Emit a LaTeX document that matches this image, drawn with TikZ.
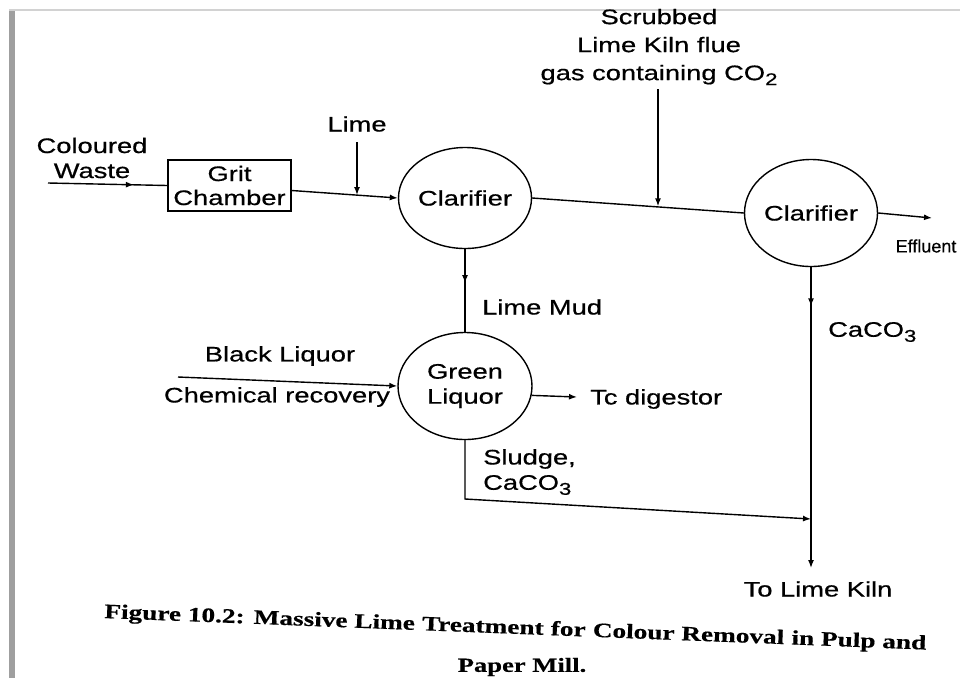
\documentclass[tikz,border=0pt]{standalone}
\usepackage{fontspec}
\setmainfont[FakeStretch=1.3,FakeBold=0.6]{Liberation Sans}
\newfontfamily\efffont[FakeBold=0.5]{Liberation Sans}
\newfontfamily\capfont[FakeStretch=1.33,FakeBold=0.5]{Liberation Serif}
\usetikzlibrary{arrows.meta,shapes.geometric,decorations.markings,calc}
\newcommand\sbs[1]{\raisebox{-0.45ex}{\fontsize{17}{17}\selectfont #1}}
\begin{document}
\begin{tikzpicture}[x=1pt,y=-1pt,
  every node/.style={font=\fontsize{21}{25}\selectfont, inner sep=0pt},
  ln/.style={line width=1.4pt, black},
  tipped/.style={ln, -{Latex[length=8pt,width=6pt]}},
  midarr/.style={ln, postaction={decorate}, decoration={markings, mark=at position #1 with {\arrow{Latex[length=8pt,width=6pt]}}}},
  unit/.style={draw, line width=1.4pt, ellipse, inner sep=0pt, align=center},
  lbl/.style={align=center},
  capstyle/.style={font=\capfont\bfseries\fontsize{20.5}{24}\selectfont, rotate=-2.2}]
\useasboundingbox (0,0) rectangle (960,678);
\fill[white] (0,0) rectangle (960,678);
\fill[gray!75] (9,10) rectangle (15,678);
\draw[gray!35, line width=1.5pt] (9,10) -- (960,10);

% units
\node[draw, line width=1.4pt, minimum width=123pt, minimum height=51pt, align=center,
      font=\fontsize{21}{24}\selectfont] (grit) at (229.5,185.5) {Grit\\Chamber};
\node[unit, minimum width=128pt, minimum height=101pt] (c1) at (465,198) {Clarifier};
\node[unit, minimum width=133pt, minimum height=107pt] (c2) at (811,213) {Clarifier};
\node[unit, minimum width=134pt, minimum height=107pt] (gl) at (465,386) {Green\\Liquor};

% labels
\node[lbl] (waste) at (92,158) {Coloured\\Waste};
\node (lime) at (357,124) {Lime};
\node[lbl, font=\fontsize{21}{28}\selectfont] (scrub) at (659,47) {Scrubbed\\Lime Kiln flue\\gas containing CO\sbs{2}};
\node[anchor=west] (mud) at (482,307) {Lime Mud};
\node (black) at (280,356) {Black Liquor};
\node (chem) at (277,397) {Chemical recovery};
\node[anchor=west] (digl) at (590,399) {Tc digestor};
\node[anchor=west] (sludge) at (483,459) {Sludge,};
\node[anchor=west] (sludgec) at (483,485) {CaCO\sbs{3}};
\node[anchor=west] (caco) at (828,332) {CaCO\sbs{3}};
\node[font=\efffont\fontsize{18}{18}\selectfont] (eff) at (926,246) {Effluent};
\node (kilnl) at (818,589) {To Lime Kiln};

% caption
\node[capstyle, anchor=base west] (cap1a) at (104,618) {Figure 10.2: Massive Lime};
\node[capstyle, anchor=base west] (cap1b) at (cap1a.base east) {\ Treatment};
\node[capstyle, anchor=base west] (cap1e) at (cap1b.base east) {\ for};
\node[capstyle, anchor=base west] (cap1c) at (cap1e.base east) {\ Colour Removal};
\node[capstyle, anchor=base west] (cap1d) at (cap1c.base east) {\ in Pulp and};
\node[font=\capfont\bfseries\fontsize{20}{24}\selectfont] (cap2) at (522,667) {Paper Mill.};

% coordinates
\coordinate (win) at (48,183);
\coordinate (limetop) at (357,142);
\coordinate (limejoin) at ($([yshift=-5pt]grit.east)!0.6!(c1.west)$);
\coordinate (co2top) at (658,89);
\coordinate (co2join) at ($(c1.east)!(co2top)!(c2.west)$);
\coordinate (effend) at (932,218);
\coordinate (kiln) at (c2.south |- 0,568);
\coordinate (blstart) at (178,377);
\coordinate (dig) at (577,397);
\coordinate (sc) at (gl.south |- 0,499);
\coordinate (sj) at (kiln |- 0,519);

% connectors
\draw[midarr=0.72] (win) -- (grit.west);
\draw[tipped] ([yshift=-5pt]grit.east) -- (c1.west);
\draw[tipped] (limetop) -- (limetop |- limejoin);
\draw[ln] (c1.east) -- (c2.west);
\draw[tipped] (co2top) -- (co2top |- co2join);
\draw[tipped] (c2.east) -- (effend);
\draw[tipped, midarr=0.13] (c2.south) -- (kiln);
\draw[midarr=0.41] (c1.south) -- (gl.north);
\draw[tipped] (blstart) -- (gl.west);
\draw[tipped] (gl.-8) -- (dig);
\draw[tipped] (gl.south) -- (sc) -- (sj);
\end{tikzpicture}
\end{document}
